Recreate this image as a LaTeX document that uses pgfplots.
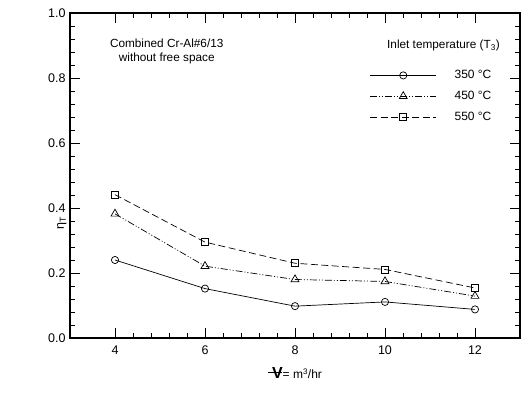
\documentclass[border=0pt]{standalone}
\usepackage{fontspec}
\setmainfont{Liberation Sans}
\usepackage{pgfplots}
\pgfplotsset{compat=1.18}
\begin{document}
\begin{tikzpicture}[x=1pt,y=1pt]
\useasboundingbox (-70,-56) rectangle (453,338);
\begin{axis}[
  at={(0,0)}, anchor=south west,
  scale only axis, width=450pt, height=325pt,
  xmin=3, xmax=13, ymin=0, ymax=1,
  xtick={4,6,8,10,12}, minor x tick num=4,
  ytick={0,0.2,0.4,0.6,0.8,1.0}, minor y tick num=4,
  tick align=inside, major tick length=10pt, minor tick length=5pt,
  axis line style={line width=1.5pt},
  every tick/.style={black, line width=0.8pt},
  /pgf/number format/assume math mode=true,
  y tick label style={xshift=-1pt, /pgf/number format/.cd,fixed,fixed zerofill,precision=1},
  ticklabel style={font=\fontsize{12.5}{14}\selectfont},
  xticklabel style={yshift=-4pt},
  xlabel={\fontsize{16}{18}\selectfont\makebox[0pt][l]{\raisebox{0.33em}{\rule{0.85em}{0.8pt}}}\hspace{0.25em}\textbf{V}{\fontsize{12}{14}\selectfont= m\textsuperscript{3}/hr}},
  xlabel style={at={(axis description cs:0.5,0)}, anchor=north, yshift=-26pt},
  ylabel={\fontsize{12.5}{14}\selectfont η\textsubscript{T}},
  ylabel style={at={(axis description cs:0,0.47)}, anchor=south, xshift=-38pt, rotate=0},
  legend style={draw=none, fill=none, at={(axis cs:9.66,0.83)}, anchor=north west,
    font=\fontsize{12}{14}\selectfont, row sep=7pt, inner sep=0pt},
  legend cell align=left,
  legend image code/.code={\draw[mark repeat=2,mark phase=2] plot coordinates {(0pt,0pt) (33pt,0pt) (66pt,0pt)};},
  every axis plot/.append style={line width=0.7pt, mark options={solid, fill=white}},
]
\addplot[black, solid, mark=o, mark size=3.6pt] coordinates {(4,0.240) (6,0.152) (8,0.098) (10,0.111) (12,0.088)};
\addlegendentry{\hspace{16pt}350 °C}
\addplot[black, dash pattern=on 7pt off 2pt on 1pt off 2pt on 1pt off 2pt, mark=triangle, mark size=4.6pt] coordinates {(4,0.382) (6,0.221) (8,0.180) (10,0.174) (12,0.129)};
\addlegendentry{\hspace{16pt}450 °C}
\addplot[black, dash pattern=on 7pt off 3.5pt, mark=square, mark size=3.5pt] coordinates {(4,0.441) (6,0.295) (8,0.230) (10,0.211) (12,0.154)};
\addlegendentry{\hspace{16pt}550 °C}
\node[font=\fontsize{11.8}{14}\selectfont, align=center] at (axis cs:5.15,0.882) {Combined Cr-Al\#6/13\\without free space};
\node[font=\fontsize{11.8}{14}\selectfont] at (axis cs:11.3,0.900) {Inlet temperature (T\textsubscript{3})};
\end{axis}
\end{tikzpicture}
\end{document}
